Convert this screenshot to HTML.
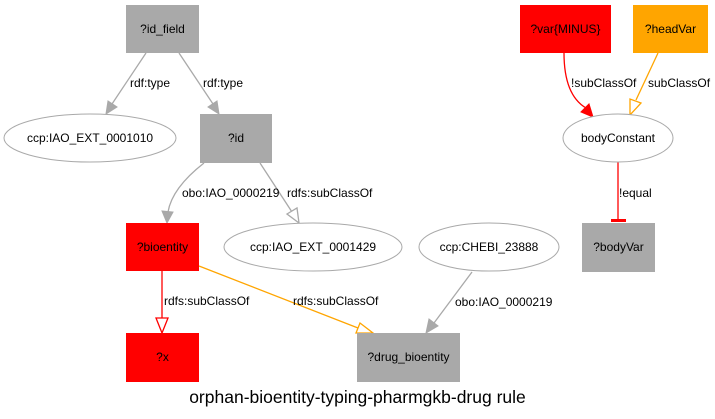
<!DOCTYPE html>
<html><head><meta charset="utf-8"><style>
html,body{margin:0;padding:0;background:#fff}
svg{display:block}
text{font-family:"Liberation Sans",Arial,sans-serif;font-size:12px;fill:#000}
</style></head><body>
<svg width="715" height="419" viewBox="0 0 715 419" xmlns="http://www.w3.org/2000/svg">
<!-- edges -->
<g fill="none" stroke-width="1.3">
<path d="M146,53 L112,104" stroke="#a9a9a9"/>
<path d="M179,53 L213,104" stroke="#a9a9a9"/>
<path d="M204,163 Q172,188 168,212" stroke="#a9a9a9"/>
<path d="M260,163 L292,212" stroke="#a9a9a9"/>
<path d="M162,270 L162,318" stroke="#ff0000"/>
<path d="M199,266 L358,328" stroke="#ffa500"/>
<path d="M472,272 L434,323" stroke="#a9a9a9"/>
<path d="M564,53 Q564,95 586,108" stroke="#ff0000"/>
<path d="M658,53 L636,100" stroke="#ffa500"/>
<path d="M618,162 L618,221" stroke="#ff0000"/>
</g>
<!-- arrowheads -->
<polygon points="106,114 108,101 117,107" fill="#a9a9a9" stroke="#a9a9a9"/>
<polygon points="219,114 208,107 217,101" fill="#a9a9a9" stroke="#a9a9a9"/>
<polygon points="167,223 162,211 173,212" fill="#a9a9a9" stroke="#a9a9a9"/>
<polygon points="299,223 287,214 297,208" fill="#fff" stroke="#a9a9a9" stroke-width="1.3"/>
<polygon points="162,333 156,318 168,318" fill="#fff" stroke="#ff0000" stroke-width="1.3"/>
<polygon points="373,333 356,333 360,323" fill="#fff" stroke="#ffa500" stroke-width="1.3"/>
<polygon points="426,333 429,319 438,326" fill="#a9a9a9" stroke="#a9a9a9"/>
<polygon points="593,117 581,112 589,104" fill="#ff0000" stroke="#ff0000"/>
<polygon points="630,115 630,99 641,103" fill="#fff" stroke="#ffa500" stroke-width="1.3"/>
<rect x="611" y="219" width="15" height="3" fill="#ff0000"/>
<!-- nodes -->
<rect x="126" y="5" width="73" height="48" fill="#a9a9a9"/>
<text x="162.5" y="33" text-anchor="middle">?id_field</text>
<ellipse cx="90" cy="138" rx="86" ry="24" fill="#fff" stroke="#a9a9a9"/>
<text x="90" y="142" text-anchor="middle">ccp:IAO_EXT_0001010</text>
<rect x="200" y="114" width="72" height="49" fill="#a9a9a9"/>
<text x="236" y="142" text-anchor="middle">?id</text>
<rect x="126" y="223" width="73" height="48" fill="#ff0000"/>
<text x="162.5" y="251" text-anchor="middle">?bioentity</text>
<ellipse cx="313" cy="247" rx="89" ry="24" fill="#fff" stroke="#a9a9a9"/>
<text x="313" y="251" text-anchor="middle">ccp:IAO_EXT_0001429</text>
<ellipse cx="489" cy="247" rx="70" ry="24" fill="#fff" stroke="#a9a9a9"/>
<text x="489" y="251" text-anchor="middle">ccp:CHEBI_23888</text>
<rect x="126" y="333" width="73" height="49" fill="#ff0000"/>
<text x="162.5" y="361" text-anchor="middle">?x</text>
<rect x="357" y="333" width="103" height="49" fill="#a9a9a9"/>
<text x="408.5" y="361" text-anchor="middle">?drug_bioentity</text>
<rect x="520" y="5" width="91" height="48" fill="#ff0000"/>
<text x="565.5" y="33" text-anchor="middle">?var{MINUS}</text>
<rect x="633" y="5" width="75" height="48" fill="#ffa500"/>
<text x="670.5" y="33" text-anchor="middle">?headVar</text>
<ellipse cx="618" cy="138" rx="55" ry="24" fill="#fff" stroke="#a9a9a9"/>
<text x="618" y="142" text-anchor="middle">bodyConstant</text>
<rect x="582" y="223" width="73" height="49" fill="#a9a9a9"/>
<text x="618.5" y="251" text-anchor="middle">?bodyVar</text>
<!-- edge labels -->
<text x="130" y="87">rdf:type</text>
<text x="203" y="87">rdf:type</text>
<text x="182" y="197">obo:IAO_0000219</text>
<text x="287" y="197">rdfs:subClassOf</text>
<text x="164" y="305">rdfs:subClassOf</text>
<text x="293" y="305">rdfs:subClassOf</text>
<text x="455" y="306">obo:IAO_0000219</text>
<text x="571" y="87">!subClassOf</text>
<text x="648" y="87">subClassOf</text>
<text x="619" y="197">!equal</text>
<text x="357.5" y="403" text-anchor="middle" style="font-size:17.5px">orphan-bioentity-typing-pharmgkb-drug rule</text>
</svg>
</body></html>
